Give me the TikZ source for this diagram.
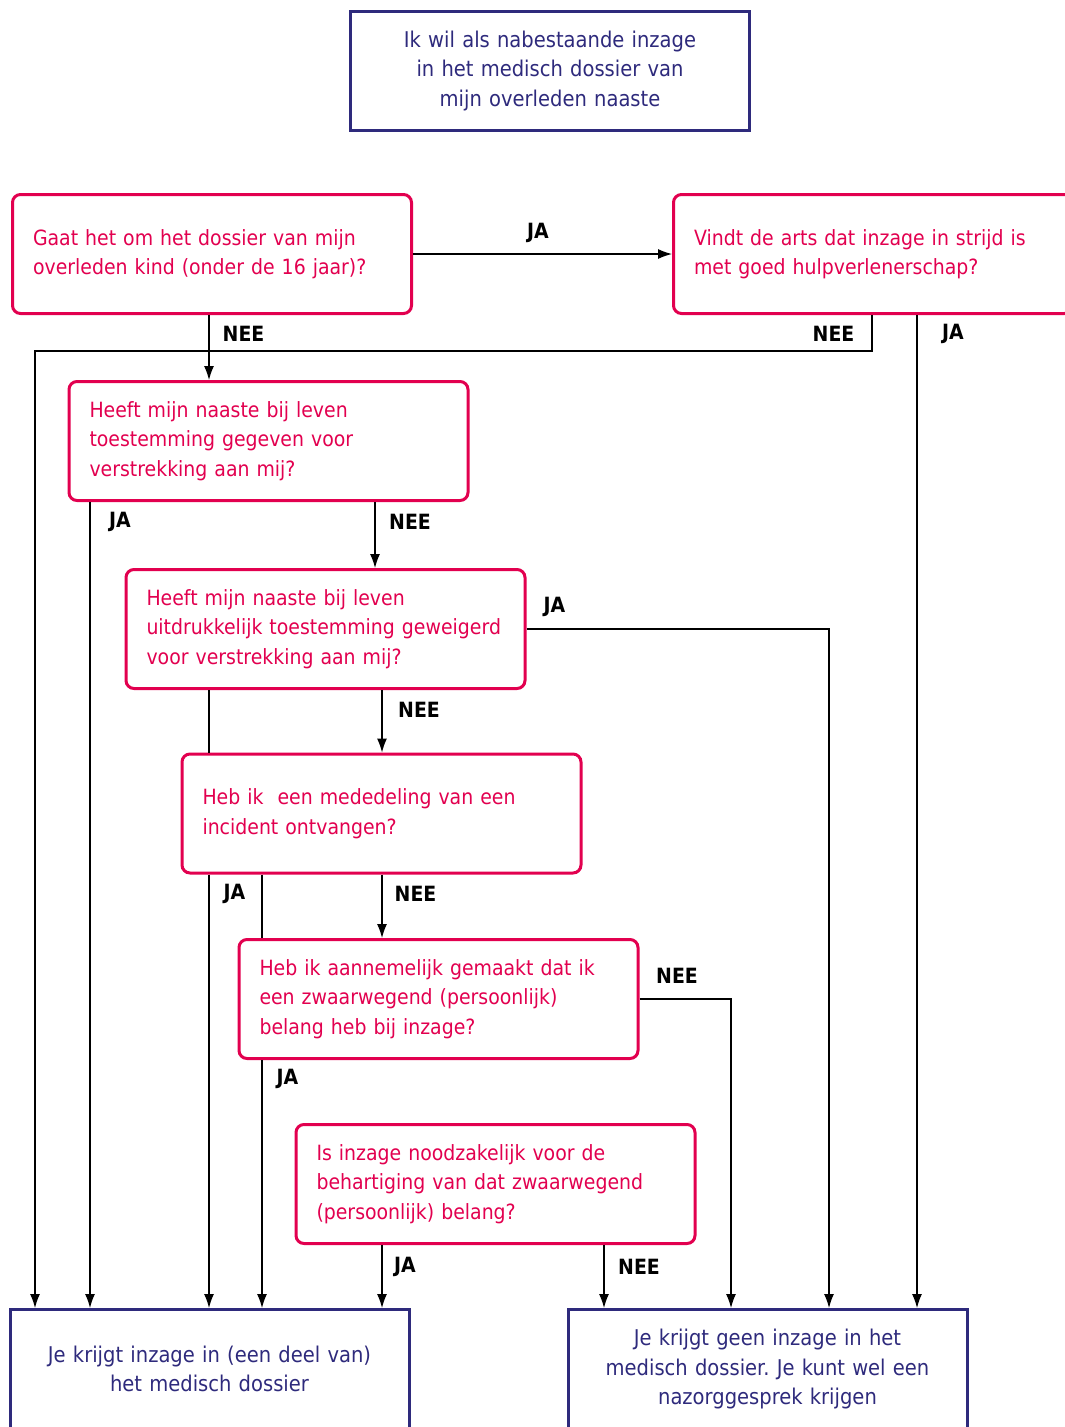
\documentclass[tikz,border=0pt]{standalone}
\usepackage{fontspec}
\setmainfont{DejaVu Sans}[FakeStretch=0.9]
\frenchspacing
\usetikzlibrary{arrows.meta}
\definecolor{qred}{HTML}{E2004F}
\definecolor{navy}{HTML}{2E2A7C}
\begin{document}
\begin{tikzpicture}[
    x=1pt, y=-1pt,
    every node/.style={font=\fontsize{21}{29.5}\selectfont},
    question/.style={draw=qred, text=qred, line width=3pt, rounded corners=8pt,
      minimum width=399pt, minimum height=119pt, text width=358pt,
      inner xsep=20.5pt, align=left},
    answer/.style={draw=navy, text=navy, line width=3pt,
      font=\fontsize{21.7}{29.5}\selectfont,
      minimum width=399pt, minimum height=119pt, text width=358pt,
      inner xsep=20.5pt, align=center},
    lbl/.style={font=\fontsize{21}{25}\bfseries\selectfont, inner sep=0pt},
    arr/.style={-{Latex[length=14pt,width=10pt]}, line width=1.2pt},
    plain/.style={line width=1.2pt}
  ]
  \useasboundingbox (0,0) rectangle (1065,1427);
  \clip (0,0) rectangle (1065,1427);

  \node[answer] (start) at (550,71)
    {Ik wil als nabestaande inzage\\in het medisch dossier van\\mijn overleden naaste};
  \node[question] (kind) at (212,254)
    {Gaat het om het dossier van mijn\\overleden kind (onder de 16 jaar)?};
  \node[question] (arts) at (873,254)
    {Vindt de arts dat inzage in strijd is\\met goed hulpverlenerschap?};
  \node[question] (toest) at (268.5,441)
    {Heeft mijn naaste bij leven\\toestemming gegeven voor\\verstrekking aan mij?};
  \node[question] (weig) at (325.5,629)
    {Heeft mijn naaste bij leven\\uitdrukkelijk toestemming geweigerd\\voor verstrekking aan mij?};
  \node[question] (incid) at (381.5,813.5)
    {Heb ik~ een mededeling van een\\incident ontvangen?};
  \node[question] (belang) at (438.5,999)
    {Heb ik aannemelijk gemaakt dat ik\\een zwaarwegend (persoonlijk)\\belang heb bij inzage?};
  \node[question] (nodig) at (495.5,1184)
    {Is inzage noodzakelijk voor de\\behartiging van dat zwaarwegend\\(persoonlijk) belang?};
  \node[answer] (wel) at (209.5,1369)
    {Je krijgt inzage in (een deel van)\\het medisch dossier};
  \node[answer] (geen) at (767.5,1369)
    {Je krijgt geen inzage in het\\medisch dossier. Je kunt wel een\\nazorggesprek krijgen};

  % start points on the boxes
  \coordinate (kindnee) at ([xshift=-3pt]kind.south);
  \coordinate (artsnee) at ([xshift=-1pt]arts.south);
  \coordinate (artsja) at ([xshift=44pt]arts.south);
  \coordinate (toestja) at ([xshift=-178.5pt]toest.south);
  \coordinate (toestnee) at ([xshift=106.5pt]toest.south);
  \coordinate (weigleft) at ([xshift=-116.5pt]weig.south);
  \coordinate (weignee) at ([xshift=56.5pt]weig.south);
  \coordinate (incidja) at ([xshift=-172.5pt]incid.south);
  \coordinate (incidmid) at ([xshift=-119.5pt]incid.south);
  \coordinate (incidnee) at ([xshift=0.5pt]incid.south);
  \coordinate (belangja) at ([xshift=-176.5pt]belang.south);
  \coordinate (nodigja) at ([xshift=-113.5pt]nodig.south);
  \coordinate (nodignee) at ([xshift=108.5pt]nodig.south);
  \coordinate (artsbend) at (35,351);
  \coordinate (weigbend) at (829,629);
  \coordinate (belangbend) at (731,999);

  % Draw the connectors
  \draw[arr] (kind.east) -- (arts.west);
  \draw[arr] (kindnee) -- (kindnee |- toest.north);
  \draw[arr] (artsnee) |- (artsbend) -- (artsbend |- wel.north);
  \draw[arr] (artsja) -- (artsja |- geen.north);
  \draw[arr] (toestja) -- (toestja |- wel.north);
  \draw[arr] (toestnee) -- (toestnee |- weig.north);
  \draw[arr] (weig.east) -- (weigbend) -- (weigbend |- geen.north);
  \draw[plain] (weigleft) -- (weigleft |- incid.north);
  \draw[arr] (weignee) -- (weignee |- incid.north);
  \draw[arr] (incidja) -- (incidja |- wel.north);
  \draw[plain] (incidmid) -- (incidmid |- belang.north);
  \draw[arr] (incidnee) -- (incidnee |- belang.north);
  \draw[arr] (belangja) -- (belangja |- wel.north);
  \draw[arr] (belang.east) -- (belangbend) -- (belangbend |- geen.north);
  \draw[arr] (nodigja) -- (nodigja |- wel.north);
  \draw[arr] (nodignee) -- (nodignee |- geen.north);

  % JA / NEE labels
  \node[lbl] (l1) at (538,233) {JA};
  \node[lbl] (l2) at (243.5,334) {NEE};
  \node[lbl] (l3) at (833.5,334) {NEE};
  \node[lbl] (l4) at (953,334) {JA};
  \node[lbl] (l5) at (120,522) {JA};
  \node[lbl] (l6) at (410,522) {NEE};
  \node[lbl] (l7) at (554.5,607) {JA};
  \node[lbl] (l8) at (419,710) {NEE};
  \node[lbl] (l9) at (234.5,894) {JA};
  \node[lbl] (l10) at (415.5,894) {NEE};
  \node[lbl] (l11) at (677,976) {NEE};
  \node[lbl] (l12) at (287.5,1079) {JA};
  \node[lbl] (l13) at (405,1267) {JA};
  \node[lbl] (l14) at (639,1267) {NEE};
\end{tikzpicture}
\end{document}
